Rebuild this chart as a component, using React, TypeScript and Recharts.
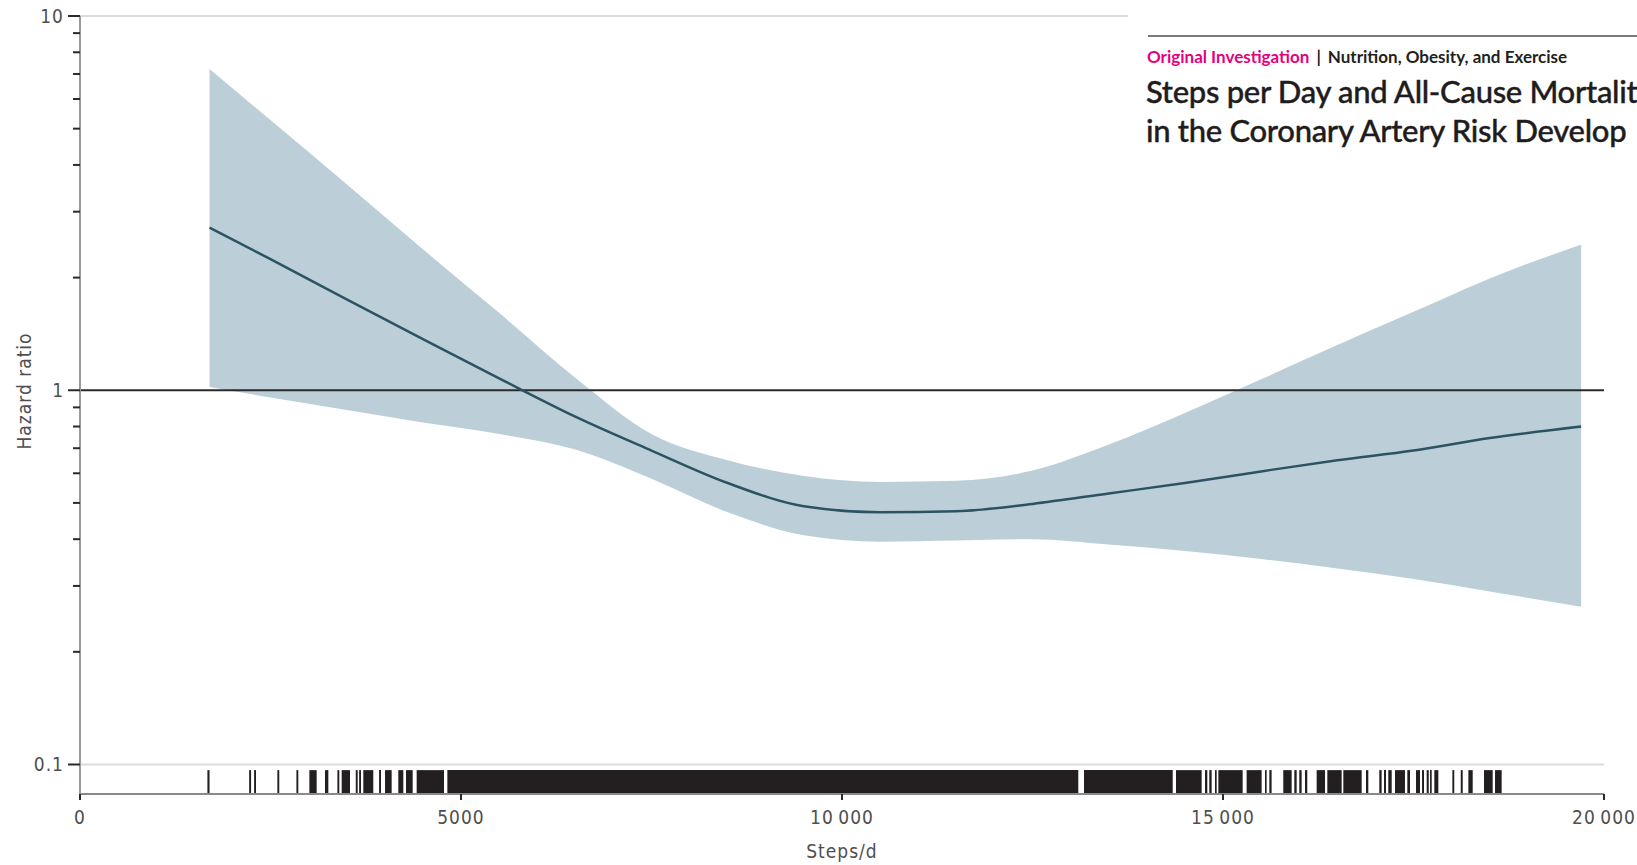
import { Area, ComposedChart, Line, ReferenceArea, ReferenceLine, XAxis, YAxis } from "recharts";

// spline estimate: steps/d vs hazard ratio with 95% CI
const steps = [1700, 2500, 3500, 4500, 5500, 6500, 7500, 8500, 9500, 10500, 11500, 12500, 13500, 14500, 15500, 16500, 17500, 18500, 19700];
const hazard = [2.72, 2.24, 1.75, 1.37, 1.076, 0.85, 0.69, 0.565, 0.49, 0.472, 0.475, 0.497, 0.53, 0.565, 0.607, 0.65, 0.69, 0.745, 0.8];
const upper = [7.22, 5.27, 3.55, 2.38, 1.61, 1.08, 0.764, 0.65, 0.59, 0.569, 0.573, 0.61, 0.716, 0.87, 1.07, 1.32, 1.62, 1.99, 2.45];
const lower = [1.02, 0.956, 0.885, 0.82, 0.764, 0.694, 0.58, 0.472, 0.41, 0.394, 0.397, 0.4, 0.387, 0.372, 0.354, 0.334, 0.313, 0.29, 0.264];

// rug of observed step counts, as [from, to] runs
const rug: [number, number][] = [
  [1672, 1700], [2220, 2245], [2285, 2310], [2590, 2615], [2840, 2865], [3010, 3106], [3215, 3259],
  [3378, 3403], [3434, 3543], [3619, 3644], [3663, 3688], [3718, 3849], [3925, 3950], [4003, 4090],
  [4177, 4243], [4278, 4366], [4418, 4777], [4821, 13101], [13176, 14340], [14383, 14720],
  [14764, 14794], [14820, 14851], [14895, 14917], [14939, 15258], [15310, 15507], [15551, 15573],
  [15608, 15638], [15791, 15901], [15936, 15967], [16001, 16032], [16076, 16106], [16229, 16339],
  [16369, 16557], [16579, 16820], [16877, 16907], [17051, 17082], [17113, 17139], [17169, 17214],
  [17257, 17388], [17419, 17454], [17533, 17585], [17612, 17638], [17673, 17700], [17717, 17739],
  [17773, 17826], [18010, 18035], [18120, 18146], [18220, 18277], [18425, 18539], [18570, 18657],
];

const xTicks = [0, 5000, 10000, 15000, 20000];
const yMajor = [0.1, 1, 10];
const yMinor = [0.2, 0.3, 0.4, 0.5, 0.6, 0.7, 0.8, 0.9, 2, 3, 4, 5, 6, 7, 8, 9];
const yMin = 0.0834;
const rugTop = 0.0966;

const data = steps.map((s, i) => ({ steps: s, hr: hazard[i], ci: [lower[i], upper[i]] }));

const axisFont = '"Liberation Sans Narrow", "DejaVu Sans Condensed", sans-serif';
const textColor = "#4f4f4f";

function fmtSteps(v: number) {
  if (v < 10000) return String(v);
  const s = String(v);
  return s.slice(0, s.length - 3) + "\u2009" + s.slice(-3);
}

function YTick(props: any) {
  const { x, y, payload } = props;
  const major = yMajor.includes(payload.value);
  return (
    <g>
      <line x1={major ? x - 12 : x - 7} x2={x} y1={y} y2={y} stroke="#2a2a2a" strokeWidth={2} />
      {major && (
        <text x={x - 16} y={y} dy="0.35em" textAnchor="end" fontSize={19} fill={textColor} fontFamily={axisFont} letterSpacing={1}>
          {String(payload.value)}
        </text>
      )}
    </g>
  );
}

function XTick(props: any) {
  const { x, y, payload } = props;
  return (
    <g>
      <line x1={x} x2={x} y1={y} y2={y + 6} stroke="#2a2a2a" strokeWidth={2} />
      <text x={x} y={y + 23} dy="0.35em" textAnchor="middle" fontSize={19} fill={textColor} fontFamily={axisFont} letterSpacing={1}>
        {fmtSteps(payload.value)}
      </text>
    </g>
  );
}

export default function App() {
  return (
    <div style={{ position: "absolute", left: 0, top: 0, width: 1637, height: 865, overflow: "hidden", background: "#fff" }}>
      <ComposedChart width={1637} height={865} data={data} margin={{ top: 16, right: 33, bottom: 0, left: 0 }}>
        <XAxis
          dataKey="steps"
          type="number"
          domain={[0, 20000]}
          ticks={xTicks}
          interval={0}
          height={71}
          tickLine={false}
          tickSize={0}
          tickMargin={0}
          tick={<XTick />}
          axisLine={{ stroke: "#8a8a8a", strokeWidth: 2 }}
          label={{
            content: () => (
              <text x={842} y={851} dy="0.35em" textAnchor="middle" fontSize={19} fill={textColor} fontFamily={axisFont} letterSpacing={1}>
                Steps/d
              </text>
            ),
          }}
        />
        <YAxis
          type="number"
          scale="log"
          domain={[yMin, 10]}
          allowDataOverflow
          ticks={[...yMajor, ...yMinor]}
          interval={0}
          width={80}
          tickLine={false}
          tickSize={0}
          tickMargin={0}
          tick={<YTick />}
          axisLine={{ stroke: "#9a9a9a", strokeWidth: 2 }}
          label={{
            content: () => (
              <text x={24} y={391} dy="0.35em" textAnchor="middle" transform="rotate(-90 24 391)" fontSize={19} fill={textColor} fontFamily={axisFont} letterSpacing={1}>
                Hazard ratio
              </text>
            ),
          }}
        />
        <ReferenceLine y={10} stroke="#dcdcdc" strokeWidth={2} />
        <ReferenceLine y={0.1} stroke="#dcdcdc" strokeWidth={2} />
        {rug.map(([a, b], i) => (
          <ReferenceArea key={i} x1={a} x2={b} y1={yMin} y2={rugTop} fill="#231f20" fillOpacity={1} stroke="none" />
        ))}
        <Area type="monotone" dataKey="ci" fill="#bccfd8" fillOpacity={1} stroke="none" isAnimationActive={false} />
        <ReferenceLine y={1} stroke="#2a2a2a" strokeWidth={2} />
        <Line type="monotone" dataKey="hr" stroke="#2c5361" strokeWidth={2.5} dot={false} isAnimationActive={false} />
      </ComposedChart>

      <div style={{ position: "absolute", left: 1128, top: 0, width: 509, height: 150, background: "#fff" }}>
        <div style={{ position: "absolute", left: 20, top: 35, width: 489, height: 2, background: "#7a7a7a" }} />
        <div
          style={{
            position: "absolute",
            left: 19,
            top: 48,
            whiteSpace: "nowrap",
            fontFamily: "Lato, sans-serif",
            fontWeight: 700,
            fontSize: 17,
            lineHeight: "18px",
            color: "#231f20",
            letterSpacing: 0,
          }}
        >
          <span style={{ color: "#e5007e" }}>Original Investigation</span>
          <span style={{ margin: "0 7px" }}>|</span>
          <span>Nutrition, Obesity, and Exercise</span>
        </div>
        <div
          style={{
            position: "absolute",
            left: 18,
            top: 72,
            whiteSpace: "nowrap",
            fontFamily: "Lato, sans-serif",
            fontWeight: 500,
            fontSize: 31,
            lineHeight: "39px",
            color: "#1f1c1d",
            letterSpacing: -0.3,
            WebkitTextStroke: "0.4px #1f1c1d",
          }}
        >
          <div>Steps per Day and All-Cause Mortalit</div>
          <div>in the Coronary Artery Risk Develop</div>
        </div>
      </div>
    </div>
  );
}
